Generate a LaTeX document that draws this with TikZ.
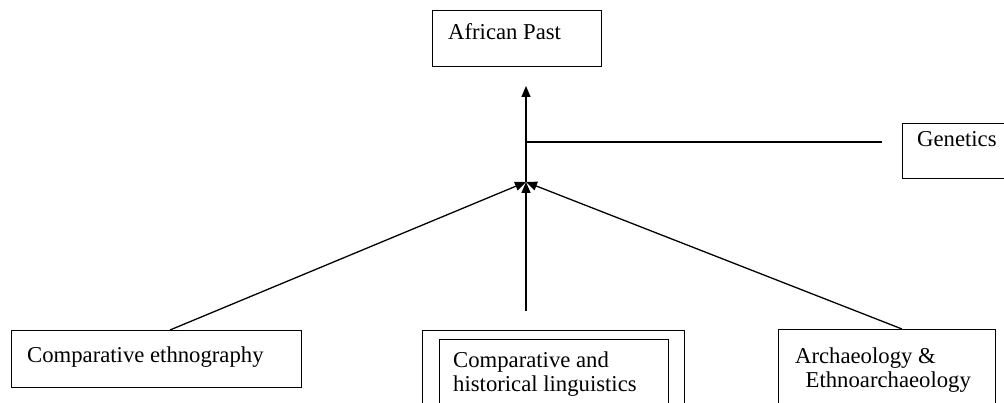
\documentclass[tikz,border=0pt]{standalone}
\usepackage{fontspec}
\setmainfont{Liberation Serif}
\usetikzlibrary{arrows.meta}
\begin{document}
\begin{tikzpicture}[x=1pt,y=-1pt,
  box/.style={draw, line width=1.1pt, rectangle, inner sep=0pt, anchor=north west},
  lbl/.style={anchor=base west, inner sep=0pt, font=\fontsize{22.7}{26}\selectfont},
  conn/.style={line width=1.3pt},
  arr/.style={conn, -{Triangle[length=11pt,width=9pt]}}]
\clip (0,0) rectangle (1004,403);
% boxes
\node[box, minimum width=169pt, minimum height=56pt] (past) at (432,10) {};
\node[lbl] (pastT) at (448,40) {African Past};
\node[box, minimum width=110pt, minimum height=55pt] (gen) at (902,123) {};
\node[lbl] (genT) at (917,147) {Genetics};
\node[box, minimum width=290pt, minimum height=57pt] (eth) at (11,330) {};
\node[lbl] (ethT) at (27,362) {Comparative ethnography};
\node[box, minimum width=262pt, minimum height=90pt] (lingO) at (422,330) {};
\node[box, minimum width=229pt, minimum height=80pt] (lingI) at (439,339) {};
\node[lbl] (lingT1) at (453,367) {Comparative and};
\node[lbl] (lingT2) at (453,391.5) {historical linguistics};
\node[box, minimum width=217pt, minimum height=90pt] (arch) at (778,329) {};
\node[lbl] (archT1) at (795,363) {Archaeology \&};
\node[lbl] (archT2) at (805.5,387) {Ethnoarchaeology};
% coordinates
\coordinate (hub) at (526,182);
\coordinate (top) at (526,86);
\coordinate (mid) at (526,311);
\coordinate (junc) at (526,142);
\coordinate (genEnd) at (882,142);
\coordinate (ethTop) at (170,330);
\coordinate (archTop) at (902,329);
% connectors
\draw[arr] (hub) -- (top);
\draw[line width=2.6pt] (junc) -- (genEnd);
\draw[arr] (ethTop) -- (hub);
\draw[arr] (mid) -- (hub);
\draw[arr] (archTop) -- (hub);
\end{tikzpicture}
\end{document}
